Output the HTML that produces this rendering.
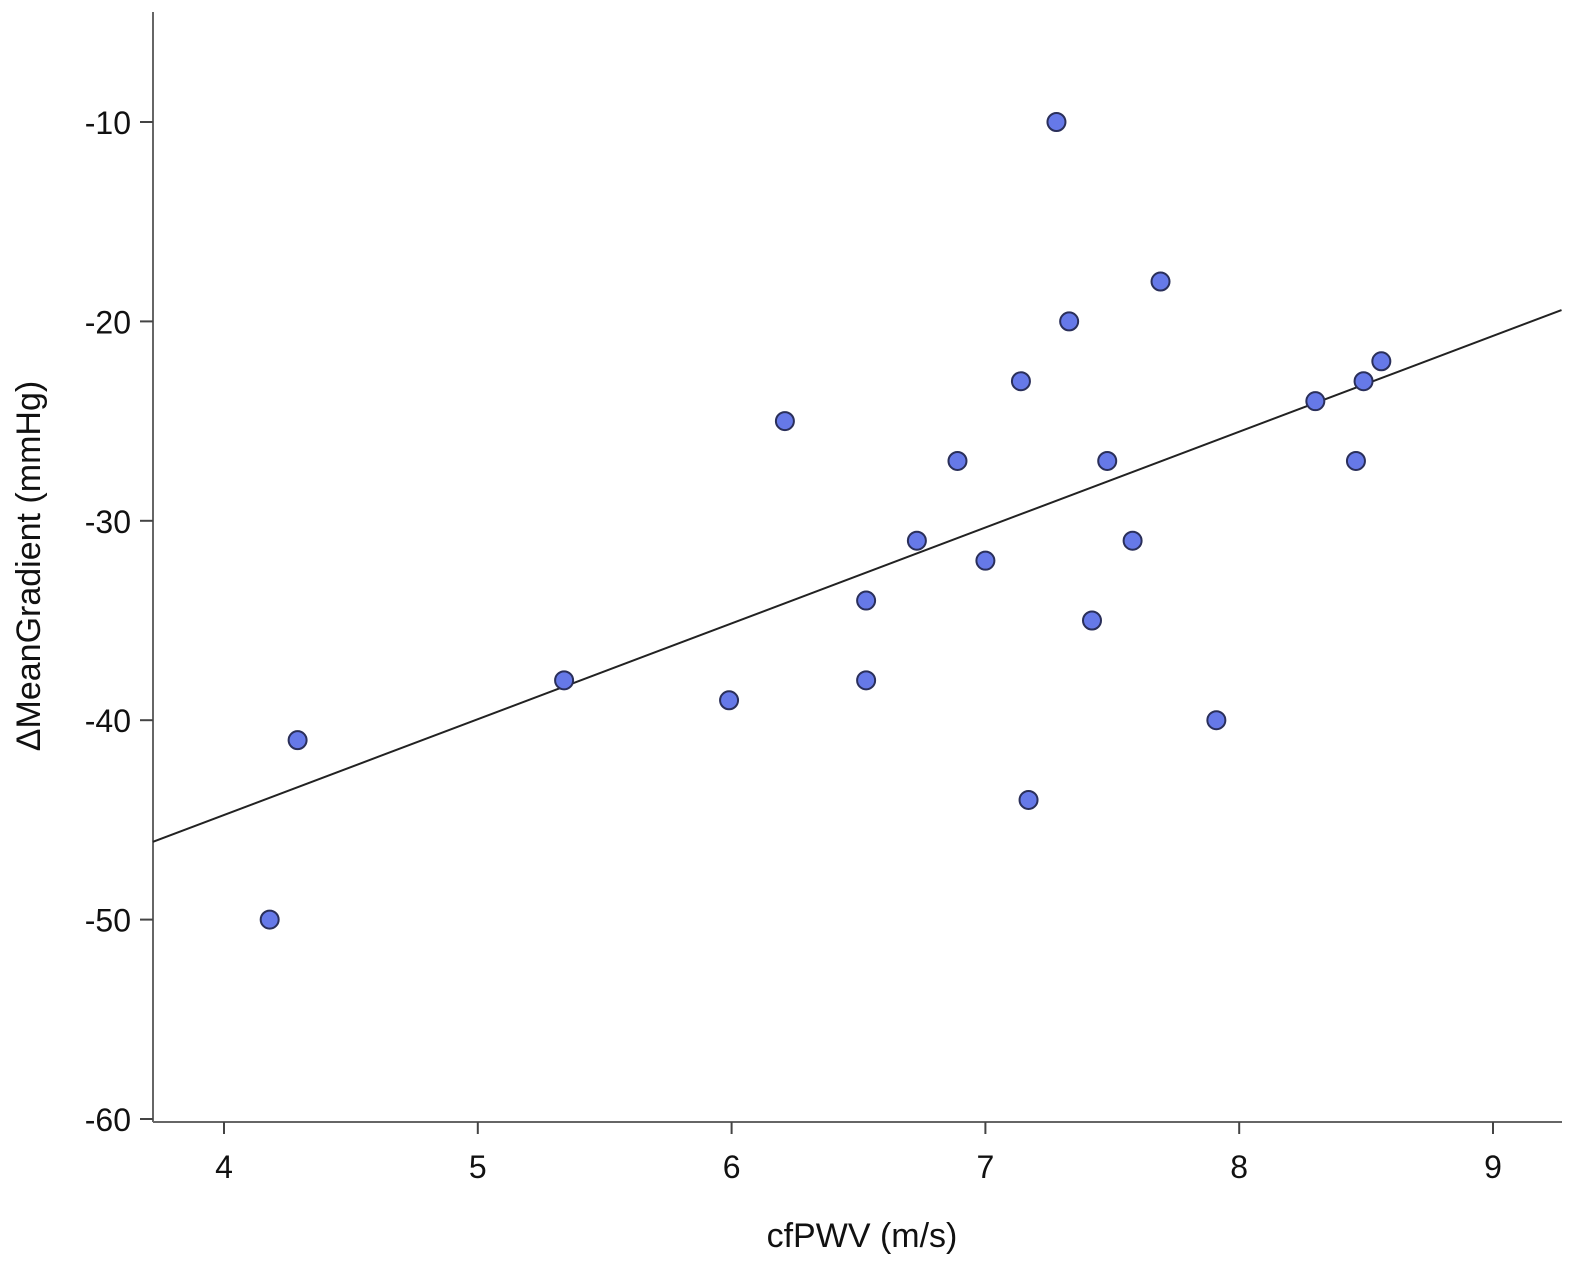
<!DOCTYPE html>
<html><head><meta charset="utf-8"><style>
body{margin:0;background:#fff;}
svg{display:block;font-family:"Liberation Sans",Arial,sans-serif;}
</style></head><body>
<svg id="chart" width="1575" height="1265">
<g id="axes"></g>
<g id="fit"></g>
<g id="pts"></g>
<text x="862" y="1247" font-size="34" text-anchor="middle" fill="#111">cfPWV (m/s)</text>
<text transform="translate(40,566) rotate(-90)" font-size="34" text-anchor="middle" fill="#111">ΔMeanGradient (mmHg)</text>
</svg>
<script>
const xTicks=[4,5,6,7,8,9];
const yTicks=[-10,-20,-30,-40,-50,-60];
const xVals=[4.18,4.29,5.34,5.99,6.21,6.53,6.53,6.73,6.89,7.0,7.14,7.17,7.28,7.33,7.42,7.48,7.58,7.69,7.91,8.30,8.49,8.46,8.56];
const yVals=[-50,-41,-38,-39,-25,-34,-38,-31,-27,-32,-23,-44,-10,-20,-35,-27,-31,-18,-40,-24,-23,-27,-22];
const fitX=[3.72,9.27];
const fitY=[-46.1,-19.43];
const X=v=>224+(v-4)*253.8;
const Y=v=>122+(-10-v)*19.94;
const NS="http://www.w3.org/2000/svg";
function mk(t,a,p){const e=document.createElementNS(NS,t);for(const k in a)e.setAttribute(k,a[k]);p.appendChild(e);return e;}
const ax=document.getElementById('axes');
const yl=mk('line',{x1:153,y1:12,x2:153,y2:1122,stroke:'#666','stroke-width':2},ax);


const xl=mk('line',{x1:153,y1:1122,x2:1562,y2:1122,stroke:'#666','stroke-width':2},ax);


xTicks.forEach(v=>{
 const t=mk('line',{x1:X(v),y1:1122,x2:X(v),y2:1134,stroke:'#444','stroke-width':2},ax);
 
 
 const l=mk('text',{x:X(v),y:1178,'font-size':32,'text-anchor':'middle',fill:'#111'},ax);
 l.textContent=v;
 
 
});
yTicks.forEach(v=>{
 const t=mk('line',{x1:140,y1:Y(v),x2:153,y2:Y(v),stroke:'#444','stroke-width':2},ax);
 
 
 const l=mk('text',{x:131,y:Y(v)+12,'font-size':32,'text-anchor':'end',fill:'#111'},ax);
 l.textContent=v;
 
 
});
const fl=mk('line',{x1:X(fitX[0]),y1:Y(fitY[0]),x2:X(fitX[1]),y2:Y(fitY[1]),stroke:'#222','stroke-width':2},document.getElementById('fit'));


const pg=document.getElementById('pts');
xVals.forEach((v,i)=>{
 const c=mk('circle',{cx:X(v),cy:Y(yVals[i]),r:9,fill:'#6679e8',stroke:'#2a2f5a','stroke-width':2},pg);
 
 
});
</script>
</body></html>
